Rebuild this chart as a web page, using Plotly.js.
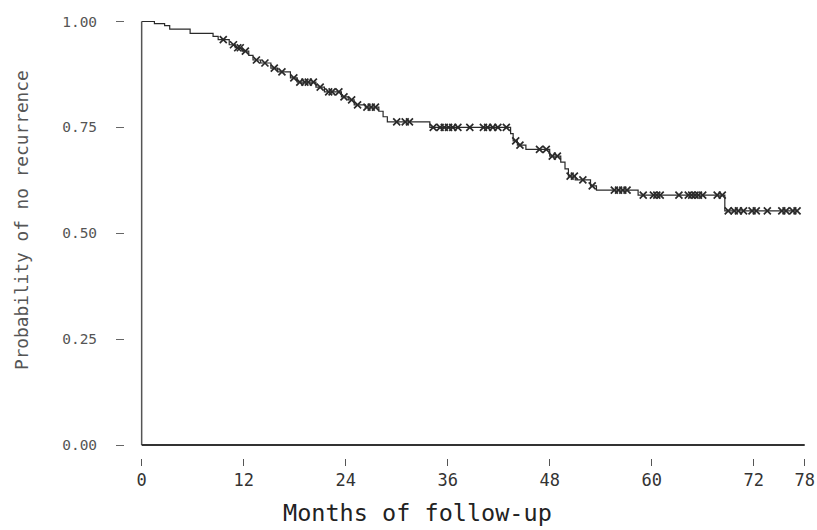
<!DOCTYPE html>
<html>
<head>
<meta charset="utf-8">
<script src="https://cdn.plot.ly/plotly-3.0.1.min.js"></script>
<style>html,body{margin:0;padding:0;background:#fff;}#chart{width:817px;height:530px;}</style>
</head>
<body>
<div id="chart"></div>
<script>
// Kaplan-Meier step function: event times (months) and survival after each event
const eventTimes = [0, 1.5, 2.7, 3.3, 5.7, 8.4, 9.0, 10.3, 11.0, 11.8, 12.6, 13.1, 14.0, 15.2, 16.0, 17.5, 18.3, 20.5, 21.5, 23.5, 24.3, 25.0, 26.3, 27.9, 28.4, 28.9, 33.9, 43.4, 43.7, 44.2, 45.2, 48.0, 49.3, 49.8, 50.2, 51.0, 52.8, 53.5, 58.4, 68.6];
const survival   = [1.0, 0.995, 0.99, 0.982, 0.972, 0.965, 0.957, 0.945, 0.938, 0.93, 0.92, 0.909, 0.902, 0.89, 0.881, 0.867, 0.857, 0.845, 0.834, 0.822, 0.815, 0.803, 0.798, 0.788, 0.775, 0.763, 0.750, 0.735, 0.718, 0.708, 0.698, 0.682, 0.668, 0.652, 0.635, 0.626, 0.612, 0.602, 0.590, 0.553];
const lastFollowUp = 77.2;
// Censored observations (months)
const censorTimes = [9.6, 10.8, 11.3, 11.6, 12.2, 13.5, 14.5, 15.6, 16.5, 17.9, 18.6, 19.2, 19.6, 20.2, 21.0, 22.0, 22.4, 23.2, 23.8, 24.7, 25.4, 26.5, 27.0, 27.5, 30.0, 31.0, 31.5, 34.3, 35.1, 35.6, 36.1, 36.6, 37.2, 38.6, 40.2, 40.7, 41.3, 41.9, 42.9, 44.0, 44.5, 46.8, 47.6, 48.3, 48.9, 50.4, 50.9, 51.9, 53.0, 55.6, 56.1, 56.6, 57.1, 59.0, 60.2, 60.6, 61.0, 63.2, 64.3, 64.7, 65.1, 65.5, 66.0, 67.7, 68.3, 69.0, 69.7, 70.2, 70.8, 71.8, 72.3, 73.6, 75.3, 75.8, 76.6, 77.1];
// Axis ticks
const xTicks = [0, 12, 24, 36, 48, 60, 72, 78];
const yTicks = [0, 0.25, 0.5, 0.75, 1.0];
const yTickText = ['0.00', '0.25', '0.50', '0.75', '1.00'];
const xTitle = 'Months of follow-up';
const yTitle = 'Probability of no recurrence';

function survAt(t) {
  let s = survival[0];
  for (let i = 0; i < eventTimes.length; i++) { if (eventTimes[i] <= t) s = survival[i]; }
  return s;
}

const stepX = eventTimes.concat([lastFollowUp]);
const stepY = survival.concat([survival[survival.length - 1]]);
const censorY = censorTimes.map(survAt);

const mono = 'DejaVu Sans Mono, monospace';
const ink = '#2a2a2a';

const traces = [
  {x: stepX, y: stepY, type: 'scatter', mode: 'lines', line: {shape: 'hv', color: ink, width: 1.2}, hoverinfo: 'skip', showlegend: false},
  {x: censorTimes, y: censorY, type: 'scatter', mode: 'markers', marker: {symbol: 'x-thin-open', size: 7, color: ink, line: {color: ink, width: 1.7}}, showlegend: false}
];

const layout = {
  width: 817, height: 530,
  margin: {l: 125, r: 7, t: 15, b: 72},
  paper_bgcolor: '#fff', plot_bgcolor: '#fff',
  showlegend: false,
  xaxis: {
    range: [-1.96, 78.62], tickvals: xTicks, ticktext: xTicks.map(String),
    showgrid: false, zeroline: false, showline: false,
    ticks: 'outside', ticklen: 7, tickwidth: 1, tickcolor: '#555',
    tickfont: {family: mono, size: 17, color: '#333'}
  },
  yaxis: {
    range: [-0.0307, 1.0153], tickvals: yTicks, ticktext: yTickText,
    showgrid: false, zeroline: false, showline: false,
    ticks: 'outside', ticklen: 8, tickwidth: 1, tickcolor: '#666',
    ticklabelstandoff: 16,
    tickfont: {family: mono, size: 14.5, color: '#555'}
  },
  annotations: [
    {text: xTitle, xref: 'paper', yref: 'paper', x: 0.4277, y: -0.1242, xanchor: 'center', yanchor: 'middle', showarrow: false,
     font: {family: mono, size: 23.5, color: '#222'}},
    {text: yTitle, xref: 'paper', yref: 'paper', x: -0.1518, y: 0.5372, xanchor: 'center', yanchor: 'middle', showarrow: false, textangle: -90,
     font: {family: mono, size: 17.8, color: '#555'}}
  ],
  shapes: [
    {type: 'line', xref: 'x', yref: 'y', x0: 0, x1: 0, y0: 0, y1: 1.0, line: {color: '#555', width: 1.5}},
    {type: 'line', xref: 'x', yref: 'y', x0: 0, x1: 78, y0: 0, y1: 0, line: {color: '#333', width: 2}}
  ]
};

Plotly.newPlot('chart', traces, layout, {displayModeBar: false, staticPlot: true});
</script>
</body>
</html>
